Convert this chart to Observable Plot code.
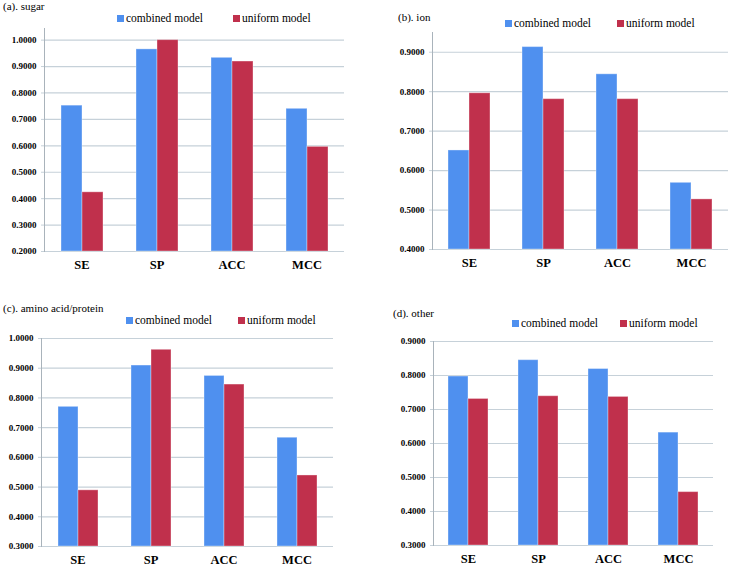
<!DOCTYPE html>
<html>
<head>
<meta charset="utf-8">
<script src="https://cdn.jsdelivr.net/npm/d3@7"></script>
<script src="https://cdn.jsdelivr.net/npm/@observablehq/plot@0.6"></script>
<style>
  html, body { margin: 0; padding: 0; background: #fff; }
  #root { position: relative; width: 733px; height: 566px; overflow: hidden; font-family: "Liberation Serif", "Times New Roman", serif; color: #000; }
  .panel { position: absolute; }
  .title { position: absolute; font-size: 11px; white-space: nowrap; line-height: 1; }
  .leg { position: absolute; font-size: 11.5px; white-space: nowrap; line-height: 1; display: flex; align-items: center; }
  .sw { display: inline-block; width: 7px; height: 7px; margin-right: 2px; }
</style>
</head>
<body>
<div id="root"></div>
<script>
// ---- data ----
const metrics = ["SE", "SP", "ACC", "MCC"];
const models = ["combined model", "uniform model"];
const panelTitles = ["(a). sugar", "(b). ion", "(c). amino acid/protein", "(d). other"];

const sugarCombined = [0.752, 0.965, 0.933, 0.740];
const sugarUniform  = [0.424, 1.000, 0.919, 0.596];
const ionCombined   = [0.651, 0.913, 0.844, 0.569];
const ionUniform    = [0.796, 0.781, 0.781, 0.527];
const aminoCombined = [0.770, 0.909, 0.874, 0.666];
const aminoUniform  = [0.489, 0.962, 0.845, 0.539];
const otherCombined = [0.797, 0.845, 0.819, 0.632];
const otherUniform  = [0.731, 0.739, 0.737, 0.457];

const sugarTicks = [0.2, 0.3, 0.4, 0.5, 0.6, 0.7, 0.8, 0.9, 1.0];
const ionTicks   = [0.4, 0.5, 0.6, 0.7, 0.8, 0.9];
const aminoTicks = [0.3, 0.4, 0.5, 0.6, 0.7, 0.8, 0.9, 1.0];
const otherTicks = [0.3, 0.4, 0.5, 0.6, 0.7, 0.8, 0.9];

const colors = ["#4f90ef", "#c0304c"];
const gridColor = "#c6d1d9";
const axisColor = "#a9b3bb";
const serif = "'Liberation Serif', 'Times New Roman', serif";

// ---- layout ----
const panels = [
  {combined: sugarCombined, uniform: sugarUniform, ticks: sugarTicks, top: 1.044,
   box: {left: 0, top: 0, width: 360, height: 280}, m: {l: 43, r: 16, t: 28, b: 29},
   title: {x: 3, y: 1}, legend: {y: 13, x1: 117, x2: 233}},
  {combined: ionCombined, uniform: ionUniform, ticks: ionTicks, top: 0.95,
   box: {left: 365, top: 0, width: 368, height: 280}, m: {l: 67, r: 5, t: 32, b: 31},
   title: {x: 398, y: 12}, legend: {y: 18, x1: 505, x2: 617}},
  {combined: aminoCombined, uniform: aminoUniform, ticks: aminoTicks, top: 1.0,
   box: {left: 0, top: 280, width: 365, height: 286}, m: {l: 40, r: 32, t: 58, b: 20},
   title: {x: 3, y: 303}, legend: {y: 315, x1: 126, x2: 238}},
  {combined: otherCombined, uniform: otherUniform, ticks: otherTicks, top: 0.9,
   box: {left: 365, top: 280, width: 368, height: 286}, m: {l: 67, r: 20, t: 61, b: 21},
   title: {x: 393, y: 308}, legend: {y: 318, x1: 512, x2: 620}}
];

const root = document.getElementById("root");
const fmt = d3.format(".4f");

panels.forEach((p, i) => {
  const rows = [];
  metrics.forEach((m, j) => {
    rows.push({metric: m, model: models[0], value: p.combined[j]});
    rows.push({metric: m, model: models[1], value: p.uniform[j]});
  });
  const ymin = p.ticks[0];
  const chart = Plot.plot({
    width: p.box.width,
    height: p.box.height,
    marginLeft: p.m.l, marginRight: p.m.r, marginTop: p.m.t, marginBottom: p.m.b,
    style: {fontFamily: serif, background: "transparent", color: "#000", overflow: "visible"},
    fx: {domain: metrics, padding: 0, label: null},
    x: {domain: models, paddingInner: 0, paddingOuter: 0.75, axis: null},
    y: {domain: [ymin, p.top], label: null, axis: null},
    color: {domain: models, range: colors},
    marks: [
      Plot.ruleY(p.ticks, {stroke: gridColor, strokeWidth: 1.2}),
      Plot.barY(rows, {fx: "metric", x: "model", y1: ymin, y2: "value", fill: "model",
                       stroke: "#ffffff", strokeOpacity: 0.35, strokeWidth: 1}),
      Plot.axisY({ticks: p.ticks, tickFormat: fmt, tickSize: 3, tickPadding: 5,
                  stroke: gridColor, fontWeight: "bold", fontSize: 9, fontFamily: serif, label: null}),
      Plot.axisFx({anchor: "bottom", tickSize: 0, tickPadding: 9, fontWeight: "bold", fontSize: 12.5, fontFamily: serif, label: null}),
      Plot.frame({anchor: "left", facetAnchor: "left", stroke: axisColor})
    ]
  });
  const wrap = document.createElement("div");
  wrap.className = "panel";
  wrap.style.left = p.box.left + "px";
  wrap.style.top = p.box.top + "px";
  wrap.appendChild(chart);
  root.appendChild(wrap);

  const t = document.createElement("div");
  t.className = "title";
  t.style.left = p.title.x + "px";
  t.style.top = p.title.y + "px";
  t.textContent = panelTitles[i];
  root.appendChild(t);

  models.forEach((name, k) => {
    const lg = document.createElement("div");
    lg.className = "leg";
    lg.style.left = (k === 0 ? p.legend.x1 : p.legend.x2) + "px";
    lg.style.top = p.legend.y + "px";
    const sw = document.createElement("span");
    sw.className = "sw";
    sw.style.background = colors[k];
    lg.appendChild(sw);
    lg.appendChild(document.createTextNode(name));
    root.appendChild(lg);
  });
});
</script>
</body>
</html>
